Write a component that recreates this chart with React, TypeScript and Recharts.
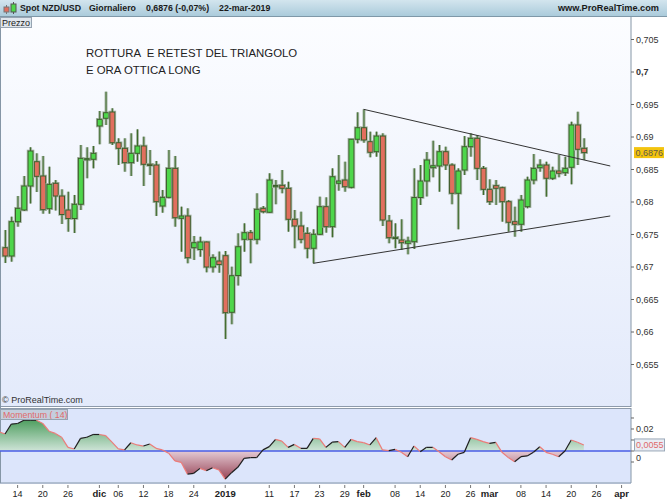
import React from 'react';
import { ComposedChart, Bar, Area, XAxis, YAxis, ReferenceLine } from 'recharts';

// ---- Data (NZD/USD daily, 12-nov-2018 .. 22-mar-2019, holidays 25-dic & 1-gen skipped) ----
const opens = [0.67297,0.67169,0.67697,0.67877,0.68246,0.6862,0.684,0.67897,0.68288,0.68092,0.67877,0.67746,0.67965,0.68657,0.68657,0.69169,0.69288,0.69385,0.68912,0.68826,0.68605,0.68749,0.68862,0.6858,0.68569,0.67938,0.68072,0.68518,0.67749,0.67785,0.67297,0.67269,0.67385,0.67,0.67092,0.67174,0.66303,0.66869,0.67426,0.67528,0.67426,0.67903,0.67842,0.68246,0.68257,0.68211,0.67734,0.67631,0.67518,0.67288,0.67503,0.67928,0.6762,0.68288,0.68338,0.68226,0.68965,0.69143,0.68928,0.68774,0.69015,0.67708,0.67451,0.67415,0.67365,0.67389,0.68069,0.68323,0.68528,0.68554,0.68774,0.68569,0.68134,0.68492,0.68851,0.6898,0.68518,0.68195,0.68251,0.6822,0.68005,0.67697,0.67657,0.67928,0.68338,0.68528,0.68569,0.68365,0.68477,0.68451,0.68534,0.69185,0.68826];
const highs = [0.67569,0.67774,0.68092,0.684,0.68842,0.68749,0.68708,0.68543,0.68338,0.68195,0.68158,0.68108,0.68877,0.68842,0.68862,0.694,0.69697,0.69442,0.6898,0.6898,0.69057,0.69118,0.69005,0.688,0.68631,0.68185,0.688,0.68708,0.67928,0.67903,0.67477,0.67466,0.67392,0.67195,0.67238,0.67246,0.67005,0.67518,0.67672,0.67569,0.68134,0.67938,0.68442,0.68338,0.68492,0.68312,0.67877,0.67851,0.67611,0.6758,0.68082,0.68072,0.68518,0.68723,0.6862,0.68965,0.6938,0.69426,0.69082,0.69082,0.69057,0.678,0.67672,0.67734,0.67466,0.68518,0.68569,0.68769,0.68943,0.68877,0.68851,0.68595,0.68518,0.69015,0.69057,0.69031,0.68554,0.68349,0.68338,0.68235,0.68031,0.67928,0.68108,0.68389,0.68738,0.68657,0.6862,0.68543,0.68723,0.68697,0.69235,0.69389,0.6898];
const lows = [0.67062,0.67082,0.6762,0.67862,0.67977,0.68154,0.6782,0.6782,0.67869,0.67662,0.67543,0.67523,0.67877,0.68365,0.68518,0.68888,0.69185,0.68877,0.68569,0.68466,0.684,0.6862,0.68246,0.68415,0.67785,0.67835,0.68057,0.6762,0.67235,0.67057,0.67108,0.67158,0.66918,0.66915,0.66912,0.65892,0.66119,0.66715,0.67235,0.67057,0.67349,0.67826,0.67835,0.67965,0.68134,0.67543,0.67288,0.67365,0.67134,0.67057,0.67492,0.67528,0.67457,0.68174,0.68158,0.6821,0.68903,0.68912,0.68688,0.68697,0.67631,0.67365,0.67288,0.67262,0.67195,0.67277,0.67954,0.68085,0.6838,0.68158,0.68492,0.67965,0.6758,0.68415,0.68697,0.68338,0.68108,0.67954,0.67954,0.67697,0.67543,0.67466,0.67543,0.67903,0.68272,0.68466,0.68082,0.68338,0.6838,0.684,0.68272,0.68569,0.68646];
const closes = [0.67169,0.67697,0.67903,0.68246,0.68785,0.68395,0.67882,0.68272,0.68092,0.67808,0.67746,0.67965,0.68672,0.68667,0.68749,0.69272,0.69374,0.68912,0.68826,0.68605,0.68749,0.68862,0.6858,0.68565,0.68005,0.68072,0.68518,0.67758,0.67785,0.67143,0.67374,0.67385,0.67,0.67143,0.67038,0.66297,0.66866,0.67312,0.67528,0.67426,0.67888,0.67851,0.68338,0.68254,0.68211,0.67734,0.67631,0.67426,0.67288,0.67503,0.67928,0.6762,0.68389,0.68323,0.68235,0.68965,0.69143,0.68954,0.68765,0.69015,0.67723,0.67451,0.67457,0.67374,0.674,0.68069,0.68323,0.68646,0.68558,0.68774,0.68569,0.68134,0.68477,0.68851,0.6898,0.68518,0.68195,0.68005,0.68211,0.68005,0.67688,0.67657,0.68031,0.68338,0.68518,0.68569,0.68365,0.68477,0.68442,0.68518,0.69185,0.68811,0.6876];

// Momentum(14), first value belongs to the bar before the first visible candle
const momentumStart = -1;
const momentum = [0.0175,0.0155,0.0245,0.025,0.028,0.028,0.028,0.025,0.018,0.016,0.0125,0.0033,0.0018,0.0115,0.0125,0.015,0.015,0.014,0.008,0.002,0.001,0.0075,0.0055,0.0045,0.0064,0.0024,0.001,-0.002,-0.009,-0.0103,-0.021,-0.0203,-0.0158,-0.018,-0.0152,-0.0173,-0.0255,-0.0197,-0.0148,-0.0067,-0.006,-0.006,0.001,0.004,0.0106,0.009,0.0033,0.006,0.0024,0.0024,0.0115,0.011,0.0033,0.008,0.0085,0.0033,0.0106,0.0085,0.0076,0.0055,0.0121,0.001,0.0003,0.0015,-0.0012,-0.0052,0.0045,-0.0006,0.0033,0.0033,-0.0006,-0.0052,-0.0082,-0.003,-0.0012,0.0121,0.0106,0.0085,0.007,0.0079,-0.0012,-0.006,-0.0097,-0.0052,-0.0045,-0.0012,0.0039,-0.0012,-0.003,-0.0052,0,0.01,0.0079,0.0055];

// X-axis ticks (bar index -> label)
const tickIdx = [2,6,10,15,18,22,26,30,35,42,46,50,54,57,62,66,70,74,77,82,86,90,94,98];
const tickText = ['14','20','26','dic','06','12','18','24','2019','11','17','23','29','feb','08','14','20','26','mar','08','14','20','26','apr'];
const boldLabels = ['dic','2019','feb','mar','apr'];

const priceTicks = [0.655,0.66,0.665,0.67,0.675,0.68,0.685,0.69,0.695,0.7,0.705];
const lastPrice = 0.6876;
const momTicks = [0.03,0.02,0.01,0,-0.01];
const momLabelled = [0.02, 0];
const lastMom = 0.0055;

// Triangle lines (bar index, price)
const upperLine = [{ x: 57, y: 0.69426 }, { x: 96.2, y: 0.68554 }];
const lowerLine = [{ x: 49, y: 0.67057 }, { x: 96.2, y: 0.67785 }];

const candles = opens.map((o, k) => ({
  i: k, open: o, high: highs[k], low: lows[k], close: closes[k], range: [lows[k], highs[k]],
}));
const momData = momentum.map((m, k) => ({ i: k + momentumStart, m }));

const X_DOMAIN: [number, number] = [-0.8, 99.5];
const FONT = '"Liberation Sans", Arial, sans-serif';

function Candle(props: any) {
  const { x, y, width, height, payload } = props;
  if (x == null || y == null || !payload) return null;
  const { open, close, high, low } = payload;
  const top = Math.min(y, y + height);
  const h = Math.abs(height);
  const k = high - low > 0 ? h / (high - low) : 0;
  const py = (v: number) => top + (high - v) * k;
  const cx = x + width / 2;
  const up = close >= open;
  const bTop = py(Math.max(open, close));
  const bBot = py(Math.min(open, close));
  const bh = Math.max(bBot - bTop, 1.2);
  return (
    <g>
      <line x1={cx} x2={cx} y1={top} y2={top + h} stroke="#a7b6a6" strokeWidth={3} />
      <rect x={cx - 3.3} y={bTop - 0.8} width={6.6} height={bh + 1.6} fill="none" stroke="#a7b6a6" strokeWidth={1} />
      <line x1={cx} x2={cx} y1={top} y2={top + h} stroke="#3c6a2a" strokeWidth={1} />
      <rect x={cx - 2.5} y={bTop} width={5} height={bh} fill={up ? '#4ed64b' : '#e16f5e'} stroke="#3d5c2c" strokeWidth={1} />
    </g>
  );
}

function PriceTick(props: any) {
  const { x, y, payload } = props;
  const v = payload.value;
  if (v === lastPrice) {
    return (
      <g>
        <rect x={x + 3} y={y - 5.5} width={30} height={11} fill="#f3c40e" />
        <text x={x + 4.5} y={y + 3.3} fontSize={9} fill="#5e5a4a" fontFamily={FONT}>{String(v).replace('.', ',')}</text>
      </g>
    );
  }
  return (
    <g>
      <line x1={x} x2={x + 3} y1={y} y2={y} stroke="#666" />
      <text x={x + 5} y={y + 3.3} fontSize={9} fill="#333" fontWeight={v === 0.7 ? 'bold' : 'normal'} fontFamily={FONT}>
        {String(v).replace('.', ',')}
      </text>
    </g>
  );
}

function MomTick(props: any) {
  const { x, y, payload } = props;
  const v = payload.value;
  if (v === lastMom) {
    return (
      <g>
        <rect x={x + 3.5} y={y - 6} width={30} height={12} fill="#e9edf4" stroke="#9aa8b8" />
        <text x={x + 5} y={y + 3.3} fontSize={9} fill="#e06a6a" fontFamily={FONT}>{String(v).replace('.', ',')}</text>
      </g>
    );
  }
  return (
    <g>
      <line x1={x} x2={x + 3} y1={y} y2={y} stroke="#666" />
      {momLabelled.includes(v) ? (
        <text x={x + 5} y={v === 0 ? y + 9.5 : y + 3.3} fontSize={9} fill="#333" fontFamily={FONT}>{String(v).replace('.', ',')}</text>
      ) : null}
    </g>
  );
}

function XTick(props: any) {
  const { x, y, payload } = props;
  const k = tickIdx.indexOf(payload.value);
  if (k < 0) return null;
  const label = tickText[k];
  const bold = boldLabels.includes(label);
  return (
    <g>
      <line x1={x} x2={x} y1={y + 2} y2={y + 5} stroke="#777" />
      <text x={x} y={y + 13.5} textAnchor="middle" fontSize={bold ? 9.5 : 9} fontWeight={bold ? 'bold' : 'normal'} fill="#222" fontFamily={FONT}>
        {label}
      </text>
    </g>
  );
}

export default function App() {
  const segs = momData.slice(1).map((d, k) => {
    const p = momData[k];
    const rising = d.m >= p.m;
    return (
      <ReferenceLine
        key={'s' + k}
        segment={[{ x: p.i, y: p.m }, { x: d.i, y: d.m }]}
        stroke={rising ? '#1e1e1e' : '#ec7b78'}
        strokeWidth={1.2}
        ifOverflow="hidden"
      />
    );
  });

  const headerStyle: any = { position: 'absolute', top: 2, fontSize: 8.8, fontWeight: 'bold', color: '#1a1a1a', lineHeight: '12px', whiteSpace: 'nowrap' };

  return (
    <div style={{ position: 'absolute', left: 0, top: 0, width: 667, height: 500, background: '#fff', overflow: 'hidden', fontFamily: FONT }}>
      {/* header */}
      <div style={{ position: 'absolute', left: 0, top: 0, width: 667, height: 16, background: 'linear-gradient(#d3e5ee, #abcbdb)', borderBottom: '1px solid #7f98a8' }} />
      <svg style={{ position: 'absolute', left: 2, top: 1 }} width={16} height={15}>
        <line x1={4.5} x2={4.5} y1={4} y2={13} stroke="#777" />
        <rect x={2} y={6} width={5} height={5} fill="#e16f5e" stroke="#777" />
        <line x1={11.5} x2={11.5} y1={1} y2={13} stroke="#555" />
        <rect x={9} y={3} width={5} height={8} fill="#4ed64b" stroke="#555" />
      </svg>
      <div style={{ ...headerStyle, left: 20 }}>Spot NZD/USD</div>
      <div style={{ ...headerStyle, left: 89 }}>Giornaliero</div>
      <div style={{ ...headerStyle, left: 146 }}>0,6876 (-0,07%)</div>
      <div style={{ ...headerStyle, left: 219 }}>22-mar-2019</div>
      <div style={{ ...headerStyle, right: 8, fontSize: 9.2 }}>www.ProRealTime.com</div>

      {/* panel backgrounds */}
      <div style={{ position: 'absolute', left: 0, top: 17, width: 631, height: 389, background: 'linear-gradient(#fcfdff, #e3eafb)' }} />
      <div style={{ position: 'absolute', left: 0, top: 406, width: 631, height: 1, background: '#8d9aab' }} />
      <div style={{ position: 'absolute', left: 0, top: 408, width: 631, height: 75, background: '#dce5fb', borderTop: '1px solid #8d9aab' }} />
      <div style={{ position: 'absolute', left: 0, top: 17, width: 1, height: 466, background: '#8596a6' }} />

      {/* main price chart */}
      <div style={{ position: 'absolute', left: 0, top: 17 }}>
        <ComposedChart width={667} height={390} data={candles} margin={{ top: 0, right: 0, bottom: 0, left: 0 }}>
          <XAxis type="number" dataKey="i" domain={X_DOMAIN} allowDataOverflow hide />
          <YAxis
            orientation="right"
            width={36}
            type="number"
            domain={[0.648462, 0.708462]}
            allowDataOverflow
            ticks={[...priceTicks, lastPrice]}
            interval={0}
            tick={<PriceTick />}
            tickLine={false}
            tickSize={0}
            tickMargin={0}
            axisLine={{ stroke: '#8596a6' }}
          />
          <Bar dataKey="range" barSize={5} isAnimationActive={false} shape={(p: any) => <Candle {...p} />} />
          <ReferenceLine segment={upperLine} stroke="#333" strokeWidth={1} />
          <ReferenceLine segment={lowerLine} stroke="#333" strokeWidth={1} />
        </ComposedChart>
      </div>

      {/* annotation + labels */}
      <div style={{ position: 'absolute', left: 86, top: 45, fontSize: 11.4, color: '#222', lineHeight: '17px', whiteSpace: 'pre' }}>
        {'ROTTURA  E RETEST DEL TRIANGOLO\nE ORA OTTICA LONG'}
      </div>
      <div style={{ position: 'absolute', left: 0, top: 17, width: 32, height: 11, background: '#dfe5ec', border: '1px solid #96a4b2', fontSize: 9, lineHeight: '10px', color: '#222', paddingLeft: 1, boxSizing: 'border-box' as any, whiteSpace: 'nowrap' }}>Prezzo</div>
      <div style={{ position: 'absolute', left: 2, top: 395, fontSize: 9, color: '#333', lineHeight: '11px', whiteSpace: 'nowrap' }}>© ProRealTime.com</div>

      {/* momentum chart */}
      <div style={{ position: 'absolute', left: 0, top: 408 }}>
        <ComposedChart width={667} height={92} data={momData} margin={{ top: 0, right: 0, bottom: 0, left: 0 }}>
          <defs>
            <linearGradient id="momFill" x1="0" y1="0" x2="0" y2="75" gradientUnits="userSpaceOnUse">
              <stop offset="0.15" stopColor="#4c9d5d" />
              <stop offset="0.573" stopColor="#cfe4d8" />
              <stop offset="0.573" stopColor="#e4cad4" />
              <stop offset="1" stopColor="#8e3346" />
            </linearGradient>
          </defs>
          <XAxis
            type="number"
            dataKey="i"
            domain={X_DOMAIN}
            allowDataOverflow
            ticks={tickIdx}
            interval={0}
            tick={<XTick />}
            tickLine={false}
            tickSize={0}
            tickMargin={0}
            height={17}
            axisLine={{ stroke: '#8596a6' }}
          />
          <YAxis
            orientation="right"
            width={36}
            type="number"
            domain={[-0.02909, 0.03909]}
            allowDataOverflow
            ticks={[...momTicks, lastMom]}
            interval={0}
            tick={<MomTick />}
            tickLine={false}
            tickSize={0}
            tickMargin={0}
            axisLine={{ stroke: '#8596a6' }}
          />
          <Area dataKey="m" type="linear" baseValue={0} stroke="none" fill="url(#momFill)" fillOpacity={1} isAnimationActive={false} />
          <ReferenceLine y={0} stroke="#4a5ce6" strokeWidth={1.5} />
          {segs}
        </ComposedChart>
      </div>
      <div style={{ position: 'absolute', left: 0, top: 409, width: 68, height: 11, background: 'rgba(190,200,214,0.8)', border: '1px solid #96a4b2', boxSizing: 'border-box' as any, fontSize: 8.8, lineHeight: '10px', color: '#e06a6a', paddingLeft: 2, whiteSpace: 'nowrap', overflow: 'hidden' }}>Momentum ( 14)</div>
    </div>
  );
}
